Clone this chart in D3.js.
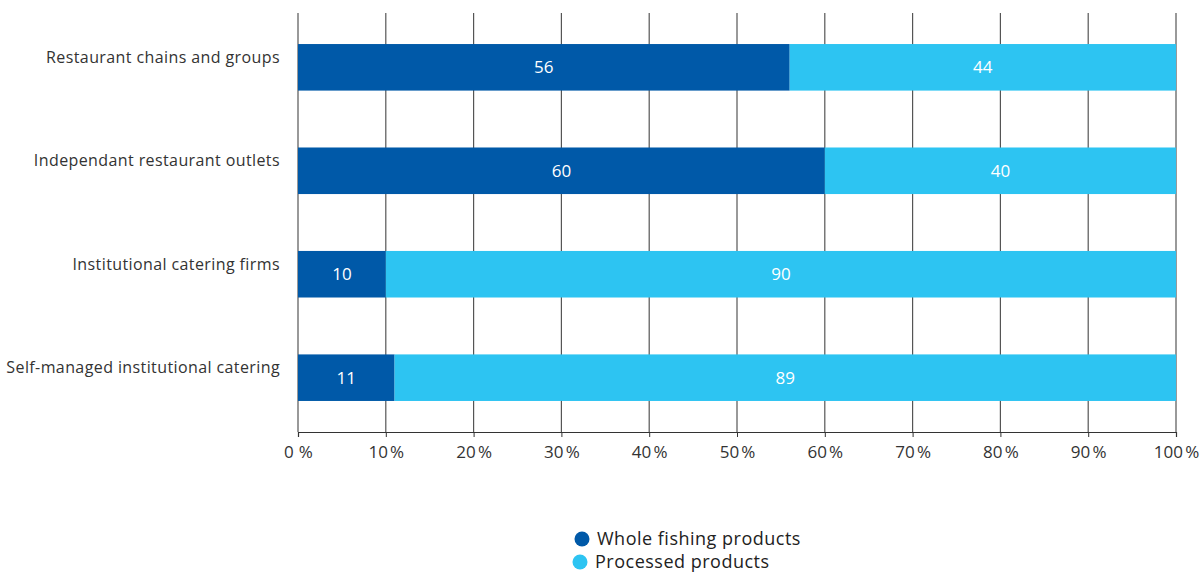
<!DOCTYPE html>
<html>
<head>
<meta charset="utf-8">
<script src="https://cdn.jsdelivr.net/npm/d3@7"></script>
<style>
  body { margin: 0; background: #fff; }
  svg { display: block; font-family: "Open Sans", "Noto Sans", sans-serif; }
</style>
</head>
<body>
<svg id="chart" width="1203" height="572"></svg>
<script>
const categories = [
  "Restaurant chains and groups",
  "Independant restaurant outlets",
  "Institutional catering firms",
  "Self-managed institutional catering"
];
const seriesNames = ["Whole fishing products", "Processed products"];
const wholeValues = [56, 60, 10, 11];
const processedValues = [44, 40, 90, 89];
const tickValues = [0, 10, 20, 30, 40, 50, 60, 70, 80, 90, 100];
const tickLabels = ["0 %", "10\u202F%", "20\u202F%", "30\u202F%", "40\u202F%", "50\u202F%", "60\u202F%", "70\u202F%", "80\u202F%", "90\u202F%", "100\u202F%"];
const colors = ["#0059A8", "#2DC4F2"];

const svg = d3.select("#chart");
const mLeft = 298, mRight = 1176, mTop = 13, mBottom = 432;

const x = d3.scaleLinear().domain([0, 100]).range([mLeft, mRight]);
const y = d3.scaleBand().domain(categories).range([mTop, mBottom])
  .paddingInner(0.55).paddingOuter(0.3);

// gridlines
svg.append("g").selectAll("line").data(tickValues).join("line")
  .attr("x1", d => x(d)).attr("x2", d => x(d))
  .attr("y1", mTop).attr("y2", mBottom)
  .attr("stroke", "#555").attr("stroke-width", 1.2);

// stacked data
const rows = categories.map((c, i) => ({ cat: c, vals: [wholeValues[i], processedValues[i]] }));
const stack = d3.stack().keys([0, 1]).value((d, k) => d.vals[k]);
const layers = stack(rows);

const g = svg.append("g");
layers.forEach((layer, k) => {
  g.append("g").selectAll("rect").data(layer).join("rect")
    .attr("x", d => x(d[0]))
    .attr("width", d => x(d[1]) - x(d[0]))
    .attr("y", d => y(d.data.cat))
    .attr("height", y.bandwidth())
    .attr("fill", colors[k]);
  g.append("g").selectAll("text").data(layer).join("text")
    .attr("x", d => (x(d[0]) + x(d[1])) / 2)
    .attr("y", d => y(d.data.cat) + y.bandwidth() / 2)
    .attr("dy", "0.35em")
    .attr("text-anchor", "middle")
    .attr("fill", "#fff")
    .attr("font-size", 17)
    .text(d => d.data.vals[k]);
});

// x axis
const xAxis = d3.axisBottom(x).tickValues(tickValues)
  .tickFormat((d, i) => tickLabels[i]).tickSize(5).tickPadding(9);
const ax = svg.append("g").attr("transform", `translate(0,${mBottom})`).call(xAxis);
ax.select(".domain").attr("stroke", "#333").attr("stroke-width", 1.2);
ax.selectAll(".tick line").attr("stroke", "#333");
ax.selectAll(".tick text").attr("font-size", 17).attr("fill", "#333")
  .attr("letter-spacing", 0.3)
  .attr("font-family", "'Open Sans', sans-serif");

// category labels
svg.append("g").selectAll("text").data(categories).join("text")
  .attr("x", 280)
  .attr("y", d => y(d) + y.bandwidth() / 2 - 10)
  .attr("dy", "0.35em")
  .attr("text-anchor", "end")
  .attr("fill", "#333")
  .attr("font-size", 16)
  .attr("letter-spacing", 0.4)
  .text(d => d);

// legend
const legend = svg.append("g");
seriesNames.forEach((n, i) => {
  const ly = 539 + i * 23;
  legend.append("circle").attr("cx", 582 - i * 2).attr("cy", ly).attr("r", 7.5).attr("fill", colors[i]);
  legend.append("text").attr("x", 597 - i * 2).attr("y", ly).attr("dy", "0.35em")
    .attr("font-size", 18).attr("letter-spacing", 0.5).attr("fill", "#222").text(n);
});
</script>
</body>
</html>
